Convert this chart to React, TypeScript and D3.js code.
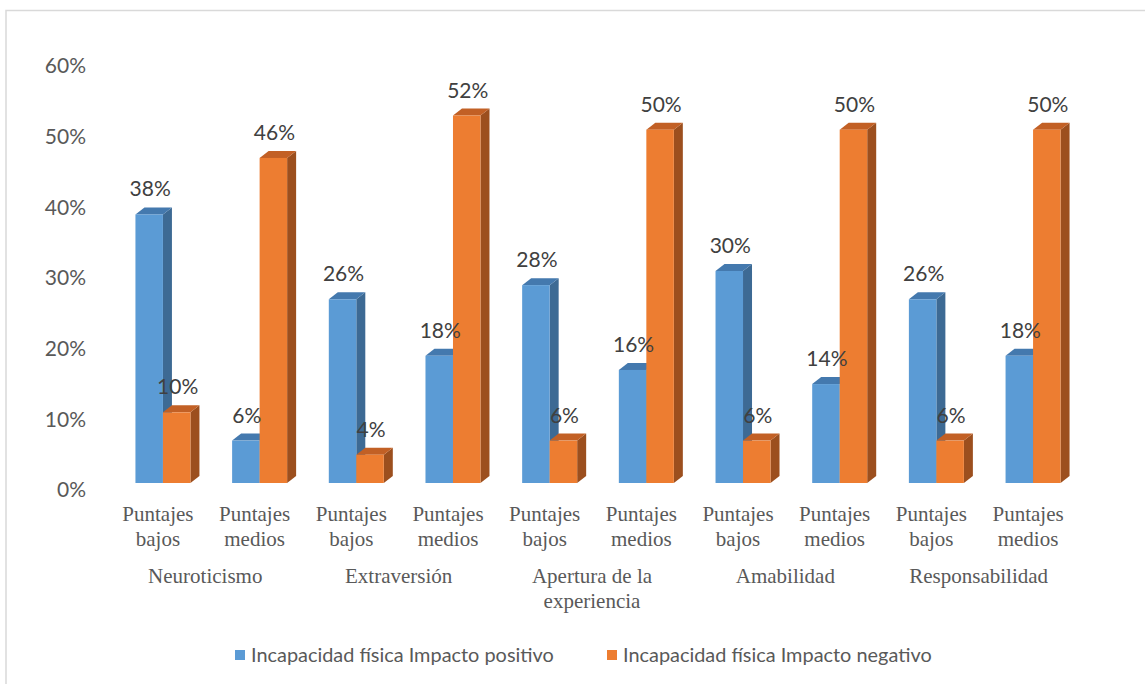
import React from "react";
import * as d3 from "d3";

// Personality traits, each split into two score levels
const categories = ["Neuroticismo", "Extraversión", "Apertura de la experiencia", "Amabilidad", "Responsabilidad"];
const categoryLines = [["Neuroticismo"], ["Extraversión"], ["Apertura de la", "experiencia"], ["Amabilidad"], ["Responsabilidad"]];
const levelLines = [["Puntajes", "bajos"], ["Puntajes", "medios"]];

// Percentages per (trait, level), in trait order: bajos, medios
const positivo = [38, 6, 26, 18, 28, 16, 30, 14, 26, 18];
const negativo = [10, 46, 4, 52, 6, 50, 6, 50, 6, 50];

const yTicks = [0, 10, 20, 30, 40, 50, 60];

const seriesNames = ["Incapacidad física Impacto positivo", "Incapacidad física Impacto negativo"];

const W = 1145;
const H = 684;

const palette = [
  { front: "#5B9BD5", side: "#3D6A94", top: "#4479AE" },
  { front: "#ED7D31", side: "#9C4F1E", top: "#C26025" },
];

const DX = 9;
const DY = 7;
const BAR_W = 27.5;
const SANS = "Lato, 'Open Sans', sans-serif";
const SERIF = "'Liberation Serif', 'DejaVu Serif', serif";

export default function App() {
  const slots = d3.range(categories.length * levelLines.length);
  const x = d3.scaleBand<number>().domain(slots).range([114.6, 1081.4]).padding(0);
  const y = d3.scaleLinear().domain([0, 60]).range([483, 59]);

  const series = [positivo, negativo];

  const bar = (slot: number, s: number) => {
    const v = series[s][slot];
    const center = (x(slot) as number) + x.bandwidth() / 2;
    const x0 = center - BAR_W + s * BAR_W;
    const x1 = x0 + BAR_W;
    const y0 = y(0);
    const y1 = y(v);
    const c = palette[s];
    return (
      <g key={`b-${s}-${slot}`}>
        <polygon
          points={`${x1},${y1} ${x1 + DX},${y1 - DY} ${x1 + DX},${y0 - DY} ${x1},${y0}`}
          fill={c.side}
        />
        <polygon
          points={`${x0},${y1} ${x1},${y1} ${x1 + DX},${y1 - DY} ${x0 + DX},${y1 - DY}`}
          fill={c.top}
        />
        <rect x={x0} y={y1} width={BAR_W} height={y0 - y1} fill={c.front} />
      </g>
    );
  };

  const label = (slot: number, s: number) => {
    const v = series[s][slot];
    const center = (x(slot) as number) + x.bandwidth() / 2;
    const cx = center - BAR_W / 2 + s * BAR_W + 1;
    return (
      <text
        key={`l-${s}-${slot}`}
        x={cx}
        y={y(v) - 18}
        textAnchor="middle"
        fontFamily={SANS}
        fontSize={21}
        fill="#404040"
      >
        {`${v}%`}
      </text>
    );
  };

  return (
    <svg
      width={W}
      height={H}
      style={{ position: "absolute", left: 0, top: 0, background: "#fff" }}
    >
      <rect x={6} y={10.5} width={1200} height={800} fill="#fff" stroke="#d9d9d9" strokeWidth={1.5} />

      {/* value axis */}
      {yTicks.map((t) => (
        <text
          key={`t-${t}`}
          x={86}
          y={y(t) + 7}
          dy="0.35em"
          textAnchor="end"
          fontFamily={SANS}
          fontSize={21}
          fill="#595959"
        >
          {`${t}%`}
        </text>
      ))}

      {/* bars: positive series first so the negative bars overlap its depth */}
      {slots.map((i) => bar(i, 0))}
      {slots.map((i) => bar(i, 1))}

      {slots.map((i) => label(i, 0))}
      {slots.map((i) => label(i, 1))}

      {/* level labels */}
      {slots.map((i) => {
        const cx = (x(i) as number) + x.bandwidth() / 2 - 5;
        const lines = levelLines[i % 2];
        return (
          <text key={`lv-${i}`} textAnchor="middle" fontFamily={SERIF} fontSize={21} fill="#595959">
            {lines.map((ln, k) => (
              <tspan key={k} x={cx} y={521 + k * 24.5}>
                {ln}
              </tspan>
            ))}
          </text>
        );
      })}

      {/* trait labels */}
      {categories.map((c, ci) => {
        const a = (x(ci * 2) as number) + x.bandwidth() / 2;
        const b = (x(ci * 2 + 1) as number) + x.bandwidth() / 2;
        const cx = (a + b) / 2 - 6;
        return (
          <text key={c} textAnchor="middle" fontFamily={SERIF} fontSize={21} fill="#595959">
            {categoryLines[ci].map((ln, k) => (
              <tspan key={k} x={cx} y={583 + k * 25}>
                {ln}
              </tspan>
            ))}
          </text>
        );
      })}

      {/* legend */}
      {seriesNames.map((n, s) => {
        const lx = [235, 607][s];
        return (
          <g key={n}>
            <rect x={lx} y={650} width={10} height={10} fill={palette[s].front} />
            <text x={lx + 16} y={655} dy="0.35em" fontFamily={SANS} fontSize={19.9} fill="#595959">
              {n}
            </text>
          </g>
        );
      })}
    </svg>
  );
}
